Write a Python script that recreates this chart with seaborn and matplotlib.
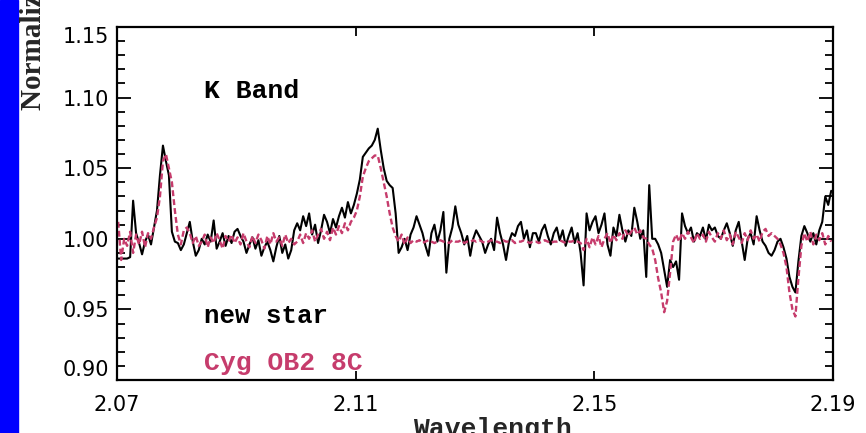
import matplotlib
matplotlib.use("Agg")
import matplotlib.pyplot as plt
import matplotlib.ticker as mticker
from matplotlib.patches import Rectangle
import numpy as np
import pandas as pd
import seaborn as sns

# wavelength grid of the spectra (micron)
wave_start = 2.0702
wave_step = 0.0005
n_pix = 240

# normalised flux, new star (one row per 0.01 micron)
new_star = [
    0.986, 0.986, 0.986, 0.986, 0.987, 1.027, 1.004, 0.997, 0.989, 0.998, 1.003, 0.996, 1.008, 1.020, 1.045, 1.066, 1.055, 1.045, 1.005, 0.998,
    0.997, 0.992, 0.996, 1.004, 1.012, 0.998, 0.988, 0.992, 1.000, 0.996, 1.003, 0.998, 1.013, 0.993, 0.998, 1.004, 0.995, 1.002, 0.997, 1.005,
    1.007, 1.002, 0.998, 0.990, 0.996, 1.001, 0.993, 0.999, 0.988, 0.994, 0.998, 0.992, 0.984, 0.994, 1.002, 0.990, 0.996, 0.986, 0.992, 1.006,
    1.011, 1.006, 1.016, 1.009, 1.018, 1.003, 1.010, 0.997, 1.006, 1.017, 1.012, 1.004, 1.014, 1.008, 1.016, 1.022, 1.015, 1.026, 1.018, 1.024,
    1.032, 1.042, 1.058, 1.061, 1.064, 1.066, 1.070, 1.078, 1.063, 1.050, 1.041, 1.038, 1.036, 1.018, 0.990, 0.994, 1.000, 0.992, 1.003, 1.008,
    1.016, 1.010, 1.004, 0.995, 0.988, 1.004, 1.010, 0.998, 1.006, 1.019, 0.976, 1.000, 1.008, 1.023, 1.010, 1.004, 0.996, 1.002, 0.988, 1.000,
    1.006, 1.002, 0.998, 0.990, 0.996, 1.000, 0.992, 1.015, 1.004, 0.996, 0.985, 0.998, 1.004, 1.002, 1.009, 1.012, 1.000, 1.006, 0.994, 1.004,
    1.004, 0.998, 1.006, 1.010, 1.002, 0.996, 1.004, 1.008, 0.999, 1.006, 0.995, 1.002, 1.008, 0.997, 1.004, 0.990, 0.967, 1.018, 1.006, 1.012,
    1.016, 1.004, 1.010, 1.018, 0.996, 0.988, 1.008, 1.002, 1.017, 1.006, 0.998, 1.006, 1.002, 1.022, 1.012, 1.000, 1.006, 0.973, 1.038, 1.000,
    1.000, 0.996, 0.990, 0.978, 0.966, 0.985, 0.980, 0.984, 0.971, 1.018, 1.009, 1.004, 1.008, 0.998, 1.004, 1.002, 1.008, 0.999, 1.010, 1.006,
    1.008, 1.002, 1.000, 1.006, 1.011, 1.004, 0.995, 1.006, 1.012, 0.998, 0.985, 1.000, 1.004, 0.996, 1.016, 1.006, 0.998, 0.995, 0.990, 0.988,
    0.992, 0.998, 1.000, 0.994, 0.986, 0.973, 0.966, 0.962, 0.984, 1.002, 1.009, 1.004, 0.998, 1.004, 0.996, 1.006, 1.012, 1.030, 1.024, 1.034,
]

# normalised flux, Cyg OB2 8C
cyg_ob2_8c = [
    1.012, 0.985, 1.000, 0.995, 1.005, 0.990, 1.003, 0.996, 1.005, 0.994, 1.004, 1.000, 1.008, 1.015, 1.030, 1.055, 1.060, 1.050, 1.040, 1.020,
    1.003, 0.996, 1.006, 1.008, 1.004, 0.997, 1.002, 0.995, 0.998, 1.003, 0.994, 1.001, 0.997, 1.004, 0.999, 0.993, 1.002, 0.998, 1.003, 0.997,
    1.001, 0.996, 1.004, 0.998, 0.994, 1.002, 0.997, 1.003, 0.999, 0.993, 1.002, 0.996, 1.004, 0.998, 1.001, 0.995, 1.003, 0.997, 1.000, 0.996,
    0.998, 1.003, 0.997, 1.004, 1.000, 1.006, 0.998, 1.003, 1.007, 1.000, 1.005, 0.999, 1.008, 1.003, 1.009, 1.004, 1.011, 1.006, 1.012, 1.015,
    1.020, 1.030, 1.044, 1.050, 1.055, 1.057, 1.059, 1.059, 1.050, 1.040, 1.030, 1.018, 1.008, 1.002, 0.998, 1.003, 0.996, 1.001, 0.997, 0.999,
    0.998, 0.999, 0.997, 0.998, 0.999, 0.998, 0.997, 0.998, 0.999, 0.998, 0.998, 0.997, 0.999, 0.998, 0.998, 0.999, 0.997, 0.998, 0.998, 0.999,
    0.998, 0.999, 0.998, 0.997, 0.998, 0.999, 0.998, 0.998, 0.997, 0.999, 0.998, 0.998, 0.999, 0.997, 0.998, 0.998, 0.999, 0.998, 0.997, 0.998,
    0.998, 0.997, 0.998, 0.999, 0.998, 0.997, 0.998, 0.998, 0.999, 0.998, 0.997, 0.998, 0.998, 0.999, 0.998, 0.997, 0.992, 1.000, 0.994, 1.001,
    0.996, 1.002, 0.994, 1.000, 1.004, 0.997, 1.003, 0.999, 1.004, 1.000, 1.006, 1.002, 1.005, 1.008, 1.003, 1.006, 1.001, 1.000, 0.996, 0.993,
    0.985, 0.972, 0.962, 0.948, 0.956, 0.976, 0.998, 1.003, 0.998, 1.004, 1.000, 1.005, 1.001, 0.997, 1.004, 1.000, 1.003, 0.998, 1.005, 1.001,
    0.998, 1.004, 1.000, 1.006, 0.999, 1.003, 0.996, 1.005, 1.001, 0.997, 1.004, 0.999, 1.006, 1.000, 1.003, 0.998, 1.005, 1.007, 1.002, 1.004,
    1.002, 1.000, 0.996, 0.990, 0.980, 0.962, 0.950, 0.945, 0.972, 0.995, 1.004, 0.998, 1.005, 0.996, 1.003, 0.999, 1.004, 0.996, 1.002, 0.998,
]

x_ticks = [2.07, 2.11, 2.15, 2.19]
x_labels = ["2.07", "2.11", "2.15", "2.19"]
y_ticks = [0.90, 0.95, 1.00, 1.05, 1.10, 1.15]
y_labels = ["0.90", "0.95", "1.00", "1.05", "1.10", "1.15"]

PINK = "#C63C6C"

sns.set_style("ticks")
plt.rcParams["font.family"] = ["DejaVu Sans"]

wave = np.round(wave_start + wave_step * np.arange(n_pix), 4)
df = pd.DataFrame({"wavelength": wave, "new": new_star, "cyg": cyg_ob2_8c})

fig = plt.figure(figsize=(8.66, 4.33), dpi=100)
fig.patches.append(Rectangle((0, 0), 18 / 866, 1, transform=fig.transFigure,
                             color="#0000FF", zorder=0))
ax = fig.add_axes([117 / 866, 1 - 380 / 433, 716 / 866, 353 / 433])

sns.lineplot(data=df, x="wavelength", y="new", ax=ax, color="black",
             linewidth=1.5, sort=False, estimator=None)
sns.lineplot(data=df, x="wavelength", y="cyg", ax=ax, color=PINK,
             linewidth=1.7, linestyle=(0, (2.5, 1.3)), sort=False, estimator=None)

ax.set_xlim(2.07, 2.19)
ax.set_ylim(0.90, 1.15)
ax.set_xlabel("")
ax.set_ylabel("")

ax.set_xticks(x_ticks)
ax.set_xticklabels(x_labels)
ax.set_yticks(y_ticks)
ax.set_yticklabels(y_labels)
ax.yaxis.set_minor_locator(mticker.MultipleLocator(0.01))

for s in ax.spines.values():
    s.set_visible(True)
    s.set_linewidth(1.6)
    s.set_color("black")

ax.tick_params(axis="both", which="both", direction="in", top=True, right=True,
               colors="black", labelsize=15, width=1.3)
ax.tick_params(axis="x", which="major", length=6.5, pad=11)
ax.tick_params(axis="y", which="major", length=10, pad=6)
ax.tick_params(axis="y", which="minor", length=6)

ylab = ax.get_yticklabels()
ylab[0].set_va("bottom")
ylab[-1].set_va("top")

mono = "Liberation Mono"
ax.text(0.1215, 0.799, "K Band", transform=ax.transAxes, fontsize=19,
        family=mono, fontweight="bold", color="black", va="baseline")
ax.text(0.1215, 0.161, "new star", transform=ax.transAxes, fontsize=18.5,
        family=mono, fontweight="bold", color="black", va="baseline")
ax.text(0.1215, 0.028, "Cyg OB2 8C", transform=ax.transAxes, fontsize=19,
        family=mono, fontweight="bold", color=PINK, va="baseline")

fig.text(492 / 866, 1 - 417 / 433, "Wavelength", ha="center", va="top",
         fontsize=19, family=mono, fontweight="bold")
fig.text(34 / 866, 1 - 110 / 433, "Normalized Flux", rotation=90, ha="center",
         va="bottom", fontsize=21, family="Liberation Serif", fontweight="bold")

fig.savefig("out.png", dpi=100)
